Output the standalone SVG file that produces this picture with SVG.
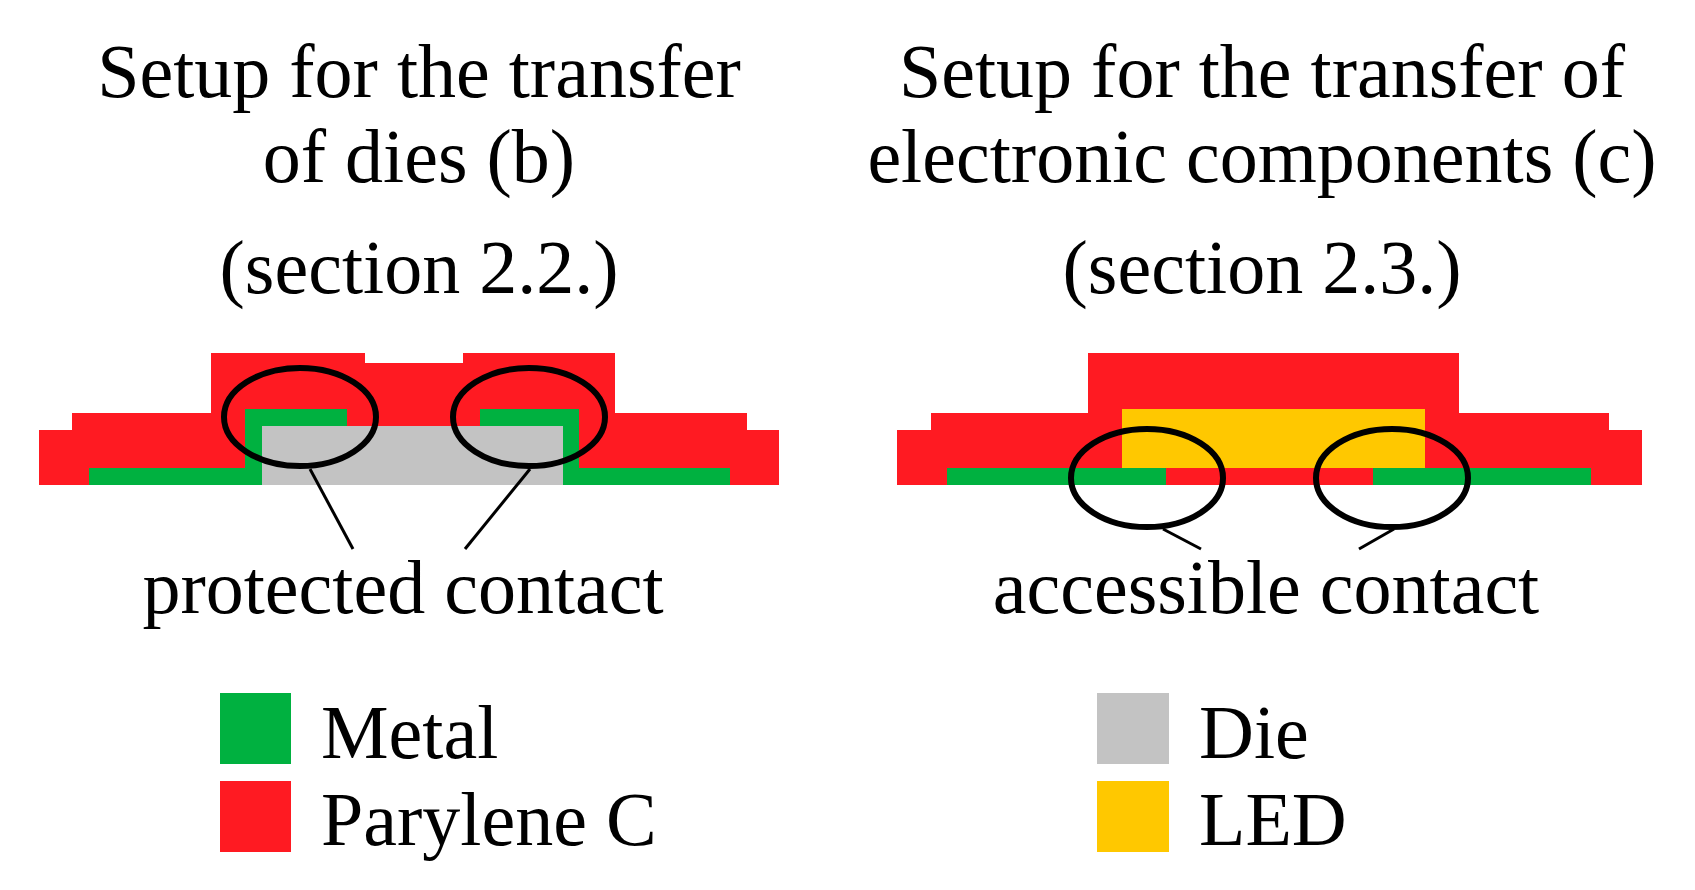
<svg xmlns="http://www.w3.org/2000/svg" width="1695" height="890" viewBox="0 0 1695 890">
<style>
.t{font-family:"Liberation Serif","Times New Roman",serif;font-size:76px;fill:#000;text-anchor:middle}
.l{font-family:"Liberation Serif","Times New Roman",serif;font-size:76px;fill:#000}
.r{fill:#FF1A22}.g{fill:#00B140}.d{fill:#C3C3C3}.y{fill:#FFC800}
.e{fill:none;stroke:#000;stroke-width:6}
.c{stroke:#000;stroke-width:3;fill:none}
</style>
<rect width="1695" height="890" fill="#fff"/>
<g id="title-b">
<text class="t" x="419" y="97">Setup for the transfer</text>
<text class="t" x="419" y="182">of dies (b)</text>
<text class="t" x="419" y="293">(section 2.2.)</text>
</g>
<g id="title-c">
<text class="t" x="1262" y="97">Setup for the transfer of</text>
<text class="t" x="1262" y="182">electronic components (c)</text>
<text class="t" x="1262" y="293">(section 2.3.)</text>
</g>
<g id="setup-b">
<rect class="r" x="39" y="430" width="740" height="55"/>
<rect class="r" x="72" y="413" width="675" height="72"/>
<path class="r" d="M211 353H365V363H463V353H615V485H211Z"/>
<rect class="g" x="89" y="468" width="641" height="17"/>
<rect class="g" x="245" y="409" width="334" height="76"/>
<rect class="r" x="347" y="409" width="133" height="17"/>
<rect class="d" x="262" y="426" width="301" height="59"/>
<ellipse class="e" cx="300" cy="417" rx="76" ry="49"/>
<ellipse class="e" cx="529" cy="417" rx="76" ry="49"/>
</g>
<g id="setup-c">
<rect class="r" x="897" y="430" width="745" height="55"/>
<rect class="r" x="931" y="413" width="678" height="72"/>
<rect class="r" x="1088" y="353" width="371" height="132"/>
<rect class="y" x="1122" y="409" width="303" height="59"/>
<rect class="g" x="947" y="468" width="219" height="17"/>
<rect class="g" x="1373" y="468" width="218" height="17"/>
<ellipse class="e" cx="1147" cy="478" rx="76" ry="49"/>
<ellipse class="e" cx="1392" cy="478" rx="76" ry="49"/>
</g>
<g id="connectors">
<line class="c" x1="310" y1="469" x2="353" y2="549"/>
<line class="c" x1="530" y1="469" x2="465" y2="549"/>
<line class="c" x1="1163" y1="529" x2="1201" y2="549"/>
<line class="c" x1="1394" y1="529" x2="1359" y2="549"/>
</g>
<g id="label-b"><text class="t" x="403" y="613">protected contact</text></g>
<g id="label-c"><text class="t" x="1266" y="613">accessible contact</text></g>
<g id="legend">
<rect class="g" x="220" y="693" width="71" height="71"/>
<text class="l" x="321" y="758">Metal</text>
<rect class="r" x="220" y="781" width="71" height="71"/>
<text class="l" x="321" y="845">Parylene C</text>
<rect class="d" x="1097" y="693" width="72" height="71"/>
<text class="l" x="1199" y="758">Die</text>
<rect class="y" x="1097" y="781" width="72" height="71"/>
<text class="l" x="1199" y="845">LED</text>
</g>
</svg>
